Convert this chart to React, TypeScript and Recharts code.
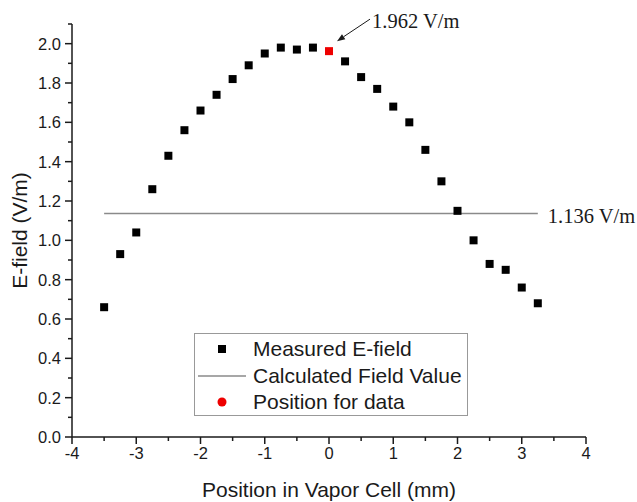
import React from 'react';
import { ScatterChart, Scatter, XAxis, YAxis, ZAxis, ReferenceLine, ReferenceDot, Legend } from 'recharts';

// measured field along the cell (the point at 0 is drawn separately in red)
const positions = [-3.5, -3.25, -3, -2.75, -2.5, -2.25, -2, -1.75, -1.5, -1.25, -1, -0.75, -0.5, -0.25, 0.25, 0.5, 0.75, 1, 1.25, 1.5, 1.75, 2, 2.25, 2.5, 2.75, 3, 3.25];
const fieldValues = [0.66, 0.93, 1.04, 1.26, 1.43, 1.56, 1.66, 1.74, 1.82, 1.89, 1.95, 1.98, 1.97, 1.98, 1.91, 1.83, 1.77, 1.68, 1.6, 1.46, 1.3, 1.15, 1.0, 0.88, 0.85, 0.76, 0.68];

const dataPoint = { x: 0, y: 1.962 };
const calcValue = 1.136;
const calcRange = [-3.5, 3.25];

const xTicks = [-4, -3.5, -3, -2.5, -2, -1.5, -1, -0.5, 0, 0.5, 1, 1.5, 2, 2.5, 3, 3.5, 4];
const yTicks = [0, 0.1, 0.2, 0.3, 0.4, 0.5, 0.6, 0.7, 0.8, 0.9, 1.0, 1.1, 1.2, 1.3, 1.4, 1.5, 1.6, 1.7, 1.8, 1.9, 2.0, 2.1];
const legendLabels = ['Measured E-field', 'Calculated Field Value', 'Position for data'];

const measured = positions.map((x, i) => ({ x, y: fieldValues[i] }));
const calcSegment = [{ x: calcRange[0], y: calcValue }, { x: calcRange[1], y: calcValue }];

const SANS = '"Liberation Sans", Arial, sans-serif';
const SERIF = '"Liberation Serif", "Times New Roman", serif';
const INK = '#1a1a1a';

const XTick = (props: any) => {
  const { x, y, payload } = props;
  const v = payload.value;
  const major = Number.isInteger(v);
  return (
    <g>
      <line x1={x} x2={x} y1={y} y2={y + (major ? 7 : 4)} stroke={INK} strokeWidth={1.5} />
      {major && (
        <text x={x} y={y + 22} textAnchor="middle" fontSize={16.5} fill={INK} fontFamily={SANS}>
          {String(v)}
        </text>
      )}
    </g>
  );
};

const YTick = (props: any) => {
  const { x, y, payload } = props;
  const v = payload.value;
  const major = Math.round(v * 10) % 2 === 0;
  return (
    <g>
      <line x1={x - (major ? 7 : 4)} x2={x} y1={y} y2={y} stroke={INK} strokeWidth={1.5} />
      {major && (
        <text x={x - 11} y={y + 6} textAnchor="end" fontSize={16.5} fill={INK} fontFamily={SANS}>
          {v.toFixed(1)}
        </text>
      )}
    </g>
  );
};

// arrow + text pointing at the red point
const PeakNote = (props: any) => {
  const { cx, cy } = props;
  const tail = { x: cx + 41, y: cy - 32 };
  const tip = { x: cx + 8, y: cy - 10 };
  const dx = tail.x - tip.x;
  const dy = tail.y - tip.y;
  const len = Math.hypot(dx, dy);
  const ux = dx / len;
  const uy = dy / len;
  const bx = tip.x + ux * 8;
  const by = tip.y + uy * 8;
  const px = -uy * 3;
  const py = ux * 3;
  return (
    <g>
      <line x1={tail.x} y1={tail.y} x2={bx} y2={by} stroke={INK} strokeWidth={1} />
      <polygon points={`${tip.x},${tip.y} ${bx + px},${by + py} ${bx - px},${by - py}`} fill={INK} />
      <text x={cx + 43} y={cy - 23} fontSize={20.5} fill={INK} fontFamily={SERIF}>
        {`${dataPoint.y.toFixed(3)} V/m`}
      </text>
    </g>
  );
};

const CalcLabel = (props: any) => {
  const vb = props.viewBox || {};
  return (
    <text x={vb.x + vb.width + 10} y={vb.y + 9} fontSize={20.5} fill={INK} fontFamily={SERIF}>
      {`${calcValue.toFixed(3)} V/m`}
    </text>
  );
};

const LegendIcon = ({ index }: { index: number }) => (
  <svg width={58} height={26} style={{ display: 'block', flex: 'none' }}>
    {index === 0 && <rect x={23} y={9} width={8} height={8} fill="#000" />}
    {index === 1 && <line x1={3} x2={51} y1={13} y2={13} stroke="#8a8a8a" strokeWidth={1.5} />}
    {index === 2 && <circle cx={27} cy={13} r={4.5} fill="#ee0000" />}
  </svg>
);

const LegendBox = () => (
  <div
    style={{
      width: 272,
      height: 79,
      paddingTop: 2,
      border: '1px solid #999',
      background: '#fff',
      fontFamily: SANS,
      fontSize: 21,
      color: INK,
    }}
  >
    {legendLabels.map((label, i) => (
      <div key={label} style={{ display: 'flex', alignItems: 'center', height: 26.5, lineHeight: '26.5px', whiteSpace: 'nowrap' }}>
        <LegendIcon index={i} />
        <span>{label}</span>
      </div>
    ))}
  </div>
);

export default function App() {
  return (
    <div style={{ position: 'absolute', left: 0, top: 0, background: '#fff' }}>
      <ScatterChart width={637} height={502} margin={{ top: 24, right: 51, bottom: 0, left: 0 }}>
        <XAxis
          type="number"
          dataKey="x"
          domain={[-4, 4]}
          ticks={xTicks}
          interval={0}
          tick={XTick}
          tickLine={false}
          tickSize={0}
          tickMargin={0}
          height={65}
          axisLine={{ stroke: INK, strokeWidth: 1.5 }}
          label={{ value: 'Position in Vapor Cell (mm)', position: 'center', dy: 20, fontSize: 21, fill: INK, fontFamily: SANS }}
        />
        <YAxis
          type="number"
          dataKey="y"
          domain={[0, 2.1]}
          ticks={yTicks}
          interval={0}
          tick={YTick}
          tickLine={false}
          tickSize={0}
          tickMargin={0}
          width={72}
          axisLine={{ stroke: INK, strokeWidth: 1.5 }}
          label={{ value: 'E-field (V/m)', angle: -90, position: 'center', dx: -16, fontSize: 21, fill: INK, fontFamily: SANS }}
        />
        <ZAxis range={[70, 70]} />
        <ReferenceLine segment={calcSegment} stroke="#8a8a8a" strokeWidth={1.5} label={CalcLabel} />
        <Scatter name={legendLabels[0]} data={measured} fill="#000" shape="square" isAnimationActive={false} />
        <Scatter name={legendLabels[2]} data={[dataPoint]} fill="#ee0000" shape="square" isAnimationActive={false} />
        <ReferenceDot x={dataPoint.x} y={dataPoint.y} r={0} shape={PeakNote} />
        <Legend
          layout="vertical"
          align="center"
          verticalAlign="middle"
          content={LegendBox}
          wrapperStyle={{ left: 194, top: 333, width: 274, height: 83 }}
        />
      </ScatterChart>
    </div>
  );
}
